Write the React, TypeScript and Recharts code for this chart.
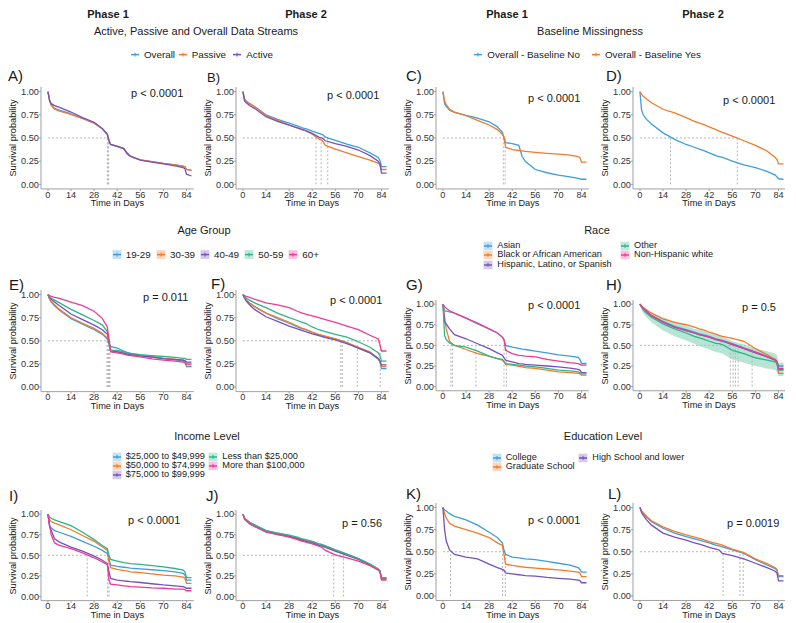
import React from 'react';
import { ComposedChart, Line, Area, XAxis, YAxis, ReferenceLine } from 'recharts';

const FONT = '"Liberation Sans", Arial, Helvetica, sans-serif';
const BLUE = '#3c9fdb';
const ORANGE = '#f47a2b';
const PURPLE = '#7651bd';
const GREEN = '#2fb488';
const PINK = '#ee3b95';
const GUIDE = '#b5b5b5';
const AXIS = '#a0a0a0';

// follow-up days at which the curves are read
const DAYS = [0, 1, 2, 4, 7, 14, 21, 28, 33, 36, 37, 38, 42, 46, 48, 50, 56, 63, 70, 77, 82, 83, 84, 87];
const X_TICKS = [0, 14, 28, 42, 56, 70, 84];
const Y_TICKS = [0, 0.25, 0.5, 0.75, 1];

// A) data streams, phase 1
const A_OVERALL = [1, 0.91, 0.86, 0.82, 0.8, 0.76, 0.71, 0.66, 0.6, 0.54, 0.47, 0.43, 0.41, 0.385, 0.335, 0.305, 0.265, 0.245, 0.225, 0.21, 0.195, 0.19, 0.16, 0.15];
const A_PASSIVE = [1, 0.91, 0.85, 0.81, 0.79, 0.755, 0.71, 0.66, 0.6, 0.54, 0.47, 0.43, 0.41, 0.385, 0.34, 0.305, 0.265, 0.245, 0.225, 0.21, 0.195, 0.19, 0.16, 0.15];
const A_ACTIVE = [1, 0.9, 0.87, 0.85, 0.83, 0.78, 0.72, 0.67, 0.6, 0.54, 0.47, 0.43, 0.41, 0.385, 0.33, 0.3, 0.26, 0.24, 0.22, 0.2, 0.18, 0.17, 0.11, 0.09];
const A_MEDIANS = [36, 36.4, 36.8];

// B) data streams, phase 2
const B_OVERALL = [1, 0.91, 0.89, 0.87, 0.84, 0.75, 0.7, 0.66, 0.63, 0.61, 0.605, 0.6, 0.575, 0.55, 0.54, 0.51, 0.475, 0.435, 0.4, 0.34, 0.29, 0.26, 0.19, 0.19];
const B_PASSIVE = [1, 0.92, 0.9, 0.87, 0.84, 0.745, 0.69, 0.64, 0.61, 0.59, 0.585, 0.58, 0.54, 0.49, 0.475, 0.42, 0.38, 0.34, 0.3, 0.26, 0.23, 0.21, 0.16, 0.16];
const B_ACTIVE = [1, 0.9, 0.88, 0.85, 0.82, 0.73, 0.68, 0.64, 0.61, 0.59, 0.585, 0.58, 0.55, 0.51, 0.5, 0.47, 0.44, 0.41, 0.37, 0.31, 0.25, 0.22, 0.12, 0.12];
const B_MEDIANS = [44.3, 47.4, 51.4];

// C) baseline missingness, phase 1
const C_NO = [1, 0.87, 0.84, 0.8, 0.775, 0.745, 0.715, 0.675, 0.62, 0.56, 0.5, 0.45, 0.44, 0.42, 0.3, 0.245, 0.16, 0.125, 0.1, 0.08, 0.065, 0.06, 0.055, 0.055];
const C_YES = [1, 0.9, 0.86, 0.81, 0.78, 0.74, 0.69, 0.64, 0.59, 0.54, 0.51, 0.4, 0.375, 0.365, 0.36, 0.355, 0.345, 0.335, 0.325, 0.315, 0.3, 0.29, 0.24, 0.24];
const C_MEDIANS = [36.6, 37.7];

// D) baseline missingness, phase 2
const D_NO = [1, 0.8, 0.75, 0.7, 0.65, 0.555, 0.485, 0.43, 0.4, 0.38, 0.375, 0.37, 0.34, 0.31, 0.3, 0.29, 0.25, 0.21, 0.18, 0.14, 0.1, 0.08, 0.06, 0.055];
const D_YES = [1, 0.97, 0.95, 0.92, 0.88, 0.81, 0.77, 0.72, 0.68, 0.66, 0.655, 0.65, 0.62, 0.59, 0.575, 0.56, 0.52, 0.47, 0.42, 0.36, 0.29, 0.27, 0.22, 0.22];
const D_MEDIANS = [18.5, 59];

// E) age group, phase 1
const E_19 = [1, 0.95, 0.92, 0.88, 0.83, 0.74, 0.68, 0.62, 0.57, 0.52, 0.47, 0.44, 0.42, 0.39, 0.375, 0.365, 0.345, 0.33, 0.31, 0.295, 0.28, 0.27, 0.22, 0.22];
const E_30 = [1, 0.95, 0.93, 0.89, 0.84, 0.75, 0.69, 0.635, 0.58, 0.53, 0.47, 0.4, 0.385, 0.37, 0.36, 0.355, 0.34, 0.325, 0.31, 0.3, 0.29, 0.28, 0.24, 0.24];
const E_40 = [1, 0.97, 0.95, 0.92, 0.88, 0.79, 0.73, 0.67, 0.62, 0.57, 0.48, 0.39, 0.38, 0.365, 0.355, 0.35, 0.335, 0.325, 0.305, 0.3, 0.29, 0.285, 0.27, 0.27];
const E_50 = [1, 0.98, 0.96, 0.94, 0.91, 0.84, 0.78, 0.72, 0.67, 0.6, 0.5, 0.4, 0.395, 0.38, 0.37, 0.365, 0.35, 0.34, 0.33, 0.32, 0.31, 0.31, 0.3, 0.3];
const E_60 = [1, 0.99, 0.98, 0.97, 0.96, 0.92, 0.88, 0.82, 0.74, 0.65, 0.52, 0.38, 0.37, 0.355, 0.345, 0.34, 0.325, 0.305, 0.29, 0.28, 0.27, 0.265, 0.25, 0.25];
const E_MEDIANS = [35.8, 36.3, 36.8, 37.2, 37.6];

// F) age group, phase 2
const F_19 = [1, 0.97, 0.94, 0.91, 0.87, 0.8, 0.74, 0.69, 0.65, 0.63, 0.625, 0.62, 0.59, 0.565, 0.555, 0.545, 0.52, 0.48, 0.42, 0.37, 0.3, 0.28, 0.2, 0.2];
const F_30 = [1, 0.97, 0.94, 0.91, 0.87, 0.8, 0.75, 0.7, 0.66, 0.635, 0.63, 0.625, 0.595, 0.57, 0.56, 0.55, 0.52, 0.48, 0.43, 0.38, 0.31, 0.28, 0.22, 0.22];
const F_40 = [1, 0.96, 0.93, 0.89, 0.84, 0.76, 0.71, 0.66, 0.63, 0.61, 0.605, 0.6, 0.575, 0.555, 0.545, 0.535, 0.51, 0.47, 0.42, 0.37, 0.31, 0.28, 0.24, 0.24];
const F_50 = [1, 0.98, 0.96, 0.94, 0.91, 0.86, 0.8, 0.75, 0.72, 0.7, 0.695, 0.69, 0.65, 0.62, 0.61, 0.6, 0.57, 0.54, 0.49, 0.43, 0.37, 0.34, 0.28, 0.28];
const F_60 = [1, 0.99, 0.98, 0.97, 0.95, 0.91, 0.89, 0.86, 0.82, 0.8, 0.795, 0.79, 0.77, 0.75, 0.74, 0.73, 0.7, 0.66, 0.62, 0.56, 0.52, 0.46, 0.39, 0.39];
const F_MEDIANS = [59.3, 60.2, 69.3, 83.2];

// G) race, phase 1
const G_ASIAN = [1, 0.92, 0.915, 0.905, 0.89, 0.83, 0.76, 0.7, 0.65, 0.6, 0.57, 0.5, 0.48, 0.465, 0.455, 0.45, 0.43, 0.41, 0.385, 0.37, 0.355, 0.33, 0.28, 0.28];
const G_BLACK = [1, 0.85, 0.7, 0.55, 0.5, 0.45, 0.4, 0.37, 0.34, 0.32, 0.3, 0.27, 0.26, 0.245, 0.24, 0.23, 0.22, 0.2, 0.18, 0.17, 0.16, 0.155, 0.14, 0.14];
const G_HISP = [1, 0.78, 0.76, 0.7, 0.63, 0.58, 0.52, 0.46, 0.41, 0.38, 0.35, 0.32, 0.3, 0.28, 0.275, 0.27, 0.26, 0.25, 0.24, 0.225, 0.21, 0.2, 0.17, 0.17];
const G_OTHER = [1, 0.62, 0.57, 0.53, 0.5, 0.48, 0.43, 0.37, 0.34, 0.33, 0.31, 0.28, 0.27, 0.26, 0.255, 0.25, 0.24, 0.22, 0.2, 0.19, 0.18, 0.17, 0.155, 0.155];
const G_WHITE = [1, 0.97, 0.95, 0.92, 0.89, 0.83, 0.77, 0.7, 0.65, 0.6, 0.57, 0.44, 0.4, 0.38, 0.375, 0.37, 0.36, 0.33, 0.31, 0.29, 0.28, 0.27, 0.26, 0.26];
const G_MEDIANS = [4.8, 5.8, 20, 37, 38.5];

// H) race, phase 2
const H_ASIAN = [1, 0.97, 0.95, 0.91, 0.86, 0.79, 0.73, 0.69, 0.66, 0.64, 0.635, 0.63, 0.61, 0.58, 0.57, 0.56, 0.52, 0.47, 0.42, 0.37, 0.33, 0.31, 0.25, 0.25];
const H_BLACK = [1, 0.98, 0.96, 0.93, 0.89, 0.82, 0.78, 0.75, 0.72, 0.7, 0.695, 0.69, 0.66, 0.635, 0.62, 0.61, 0.585, 0.55, 0.46, 0.39, 0.33, 0.3, 0.16, 0.16];
const H_HISP = [1, 0.97, 0.95, 0.91, 0.86, 0.78, 0.72, 0.68, 0.65, 0.63, 0.625, 0.62, 0.6, 0.57, 0.56, 0.55, 0.51, 0.46, 0.41, 0.36, 0.32, 0.3, 0.21, 0.21];
const H_OTHER = [1, 0.96, 0.93, 0.89, 0.84, 0.76, 0.7, 0.65, 0.61, 0.59, 0.585, 0.58, 0.55, 0.525, 0.52, 0.51, 0.44, 0.4, 0.35, 0.32, 0.3, 0.28, 0.2, 0.2];
const H_OTHER_LO = [1, 0.93, 0.89, 0.84, 0.78, 0.68, 0.61, 0.56, 0.52, 0.49, 0.485, 0.48, 0.45, 0.42, 0.41, 0.4, 0.33, 0.29, 0.25, 0.22, 0.2, 0.18, 0.13, 0.13];
const H_OTHER_HI = [1, 0.99, 0.97, 0.94, 0.9, 0.84, 0.79, 0.74, 0.7, 0.69, 0.685, 0.68, 0.65, 0.63, 0.62, 0.61, 0.55, 0.51, 0.46, 0.43, 0.4, 0.38, 0.29, 0.29];
const H_WHITE = [1, 0.97, 0.95, 0.91, 0.86, 0.78, 0.72, 0.68, 0.65, 0.63, 0.625, 0.62, 0.6, 0.575, 0.565, 0.555, 0.515, 0.465, 0.415, 0.365, 0.32, 0.3, 0.22, 0.22];
const H_MEDIANS = [54.8, 56.5, 57.9, 59.5, 68];

// I) income, phase 1
const I_25 = [1, 0.86, 0.83, 0.8, 0.78, 0.73, 0.67, 0.61, 0.56, 0.52, 0.46, 0.38, 0.365, 0.355, 0.35, 0.345, 0.335, 0.325, 0.315, 0.3, 0.28, 0.26, 0.2, 0.2];
const I_50 = [1, 0.93, 0.91, 0.89, 0.87, 0.81, 0.74, 0.67, 0.6, 0.56, 0.42, 0.35, 0.33, 0.315, 0.31, 0.3, 0.29, 0.275, 0.26, 0.25, 0.235, 0.22, 0.16, 0.16];
const I_75 = [1, 0.85, 0.8, 0.7, 0.66, 0.6, 0.55, 0.49, 0.44, 0.4, 0.3, 0.22, 0.2, 0.19, 0.185, 0.18, 0.17, 0.155, 0.14, 0.13, 0.12, 0.11, 0.1, 0.1];
const I_LOW = [1, 0.96, 0.95, 0.93, 0.91, 0.86, 0.78, 0.69, 0.62, 0.58, 0.5, 0.45, 0.43, 0.41, 0.405, 0.4, 0.39, 0.375, 0.36, 0.34, 0.32, 0.3, 0.23, 0.23];
const I_HIGH = [1, 0.87, 0.75, 0.65, 0.62, 0.58, 0.53, 0.47, 0.42, 0.385, 0.2, 0.15, 0.14, 0.13, 0.125, 0.12, 0.115, 0.105, 0.1, 0.09, 0.09, 0.085, 0.07, 0.07];
const I_MEDIANS = [23.8, 36.2, 37];

// J) income, phase 2
const J_25 = [1, 0.95, 0.93, 0.9, 0.87, 0.8, 0.77, 0.74, 0.71, 0.69, 0.685, 0.68, 0.66, 0.63, 0.62, 0.605, 0.555, 0.51, 0.455, 0.39, 0.33, 0.31, 0.22, 0.22];
const J_50 = [1, 0.95, 0.93, 0.9, 0.86, 0.79, 0.76, 0.735, 0.71, 0.695, 0.69, 0.685, 0.665, 0.64, 0.63, 0.615, 0.565, 0.515, 0.46, 0.39, 0.33, 0.31, 0.22, 0.22];
const J_75 = [1, 0.94, 0.92, 0.89, 0.85, 0.79, 0.755, 0.73, 0.7, 0.68, 0.675, 0.67, 0.65, 0.62, 0.61, 0.595, 0.55, 0.5, 0.45, 0.385, 0.325, 0.305, 0.21, 0.21];
const J_LOW = [1, 0.95, 0.93, 0.9, 0.87, 0.8, 0.77, 0.745, 0.72, 0.7, 0.695, 0.69, 0.67, 0.64, 0.63, 0.615, 0.565, 0.515, 0.46, 0.395, 0.335, 0.315, 0.23, 0.23];
const J_HIGH = [1, 0.94, 0.92, 0.88, 0.85, 0.78, 0.75, 0.72, 0.69, 0.67, 0.665, 0.66, 0.64, 0.61, 0.595, 0.56, 0.505, 0.47, 0.43, 0.375, 0.32, 0.3, 0.2, 0.2];
const J_MEDIANS = [55, 61];

// K) education, phase 1
const K_COLLEGE = [1, 0.97, 0.96, 0.93, 0.9, 0.86, 0.8, 0.72, 0.66, 0.6, 0.52, 0.47, 0.44, 0.43, 0.425, 0.42, 0.41, 0.39, 0.37, 0.35, 0.32, 0.3, 0.27, 0.27];
const K_GRAD = [1, 0.93, 0.88, 0.82, 0.79, 0.75, 0.71, 0.66, 0.6, 0.57, 0.47, 0.36, 0.345, 0.335, 0.33, 0.325, 0.315, 0.305, 0.295, 0.28, 0.27, 0.26, 0.22, 0.22];
const K_HS = [1, 0.75, 0.62, 0.52, 0.47, 0.44, 0.42, 0.36, 0.32, 0.3, 0.29, 0.26, 0.25, 0.24, 0.235, 0.23, 0.225, 0.21, 0.2, 0.19, 0.18, 0.175, 0.15, 0.15];
const K_MEDIANS = [4.6, 36.2, 37.8];

// L) education, phase 2
const L_COLLEGE = [1, 0.955, 0.93, 0.89, 0.84, 0.765, 0.71, 0.67, 0.645, 0.63, 0.625, 0.62, 0.6, 0.575, 0.565, 0.555, 0.52, 0.48, 0.41, 0.35, 0.31, 0.29, 0.22, 0.22];
const L_GRAD = [1, 0.96, 0.94, 0.9, 0.85, 0.78, 0.73, 0.69, 0.665, 0.65, 0.645, 0.64, 0.615, 0.595, 0.585, 0.575, 0.53, 0.49, 0.42, 0.365, 0.32, 0.3, 0.23, 0.23];
const L_HS = [1, 0.94, 0.91, 0.86, 0.8, 0.71, 0.665, 0.63, 0.6, 0.585, 0.58, 0.575, 0.55, 0.53, 0.52, 0.48, 0.455, 0.42, 0.37, 0.32, 0.28, 0.26, 0.17, 0.17];
const L_MEDIANS = [50.4, 60.6, 62.6];

const STREAM_LABELS = ['Overall', 'Passive', 'Active'];
const BASELINE_LABELS = ['Overall - Baseline No', 'Overall - Baseline Yes'];
const AGE_LABELS = ['19-29', '30-39', '40-49', '50-59', '60+'];
const RACE_LABELS = ['Asian', 'Black or African American', 'Hispanic, Latino, or Spanish', 'Other', 'Non-Hispanic white'];
const INCOME_LABELS = ['$25,000 to $49,999', '$50,000 to $74,999', '$75,000 to $99,999', 'Less than $25,000', 'More than $100,000'];
const EDU_LABELS = ['College', 'Graduate School', 'High School and lower'];

const X_MIN = -4.2;
const X_MAX = 88.4;
const PLOT_W = 152.8;
const PX_PER_DAY = PLOT_W / (X_MAX - X_MIN);
const Y_AXIS_W = 30;
const X_AXIS_H = 14;
const COLS = [48, 243, 443.3, 639.5];

type Series = { values: number[]; color: string };
type PanelSpec = {
  tag: string; tagX: number; tagY: number; tagSize?: number;
  x0: number; y1: number; y0: number;
  series: Series[]; medians: number[];
  p: string; px: number; py: number;
  band?: { lo: number[]; hi: number[]; color: string };
};

const five = (a: number[], b: number[], c: number[], d: number[], e: number[]): Series[] => [
  { values: a, color: BLUE }, { values: b, color: ORANGE }, { values: c, color: PURPLE },
  { values: d, color: GREEN }, { values: e, color: PINK },
];

const PANELS: PanelSpec[] = [
  { tag: 'A)', tagX: 8, tagY: 75, x0: COLS[0], y1: 91.5, y0: 184.2, p: 'p < 0.0001', px: 131, py: 93,
    series: [{ values: A_OVERALL, color: BLUE }, { values: A_PASSIVE, color: ORANGE }, { values: A_ACTIVE, color: PURPLE }], medians: A_MEDIANS },
  { tag: 'B)', tagX: 207, tagY: 77, tagSize: 13, x0: COLS[1], y1: 91.5, y0: 184.2, p: 'p < 0.0001', px: 327, py: 95,
    series: [{ values: B_OVERALL, color: BLUE }, { values: B_PASSIVE, color: ORANGE }, { values: B_ACTIVE, color: PURPLE }], medians: B_MEDIANS },
  { tag: 'C)', tagX: 406, tagY: 75, x0: COLS[2], y1: 91.5, y0: 184.2, p: 'p < 0.0001', px: 528, py: 98,
    series: [{ values: C_NO, color: BLUE }, { values: C_YES, color: ORANGE }], medians: C_MEDIANS },
  { tag: 'D)', tagX: 606, tagY: 75, x0: COLS[3], y1: 91.5, y0: 184.2, p: 'p < 0.0001', px: 723, py: 100,
    series: [{ values: D_NO, color: BLUE }, { values: D_YES, color: ORANGE }], medians: D_MEDIANS },
  { tag: 'E)', tagX: 9, tagY: 284, x0: COLS[0], y1: 294.3, y0: 386.7, p: 'p = 0.011', px: 143, py: 297,
    series: five(E_19, E_30, E_40, E_50, E_60), medians: E_MEDIANS },
  { tag: 'F)', tagX: 211, tagY: 283, x0: COLS[1], y1: 294.3, y0: 386.7, p: 'p < 0.0001', px: 330, py: 300,
    series: five(F_19, F_30, F_40, F_50, F_60), medians: F_MEDIANS },
  { tag: 'G)', tagX: 406, tagY: 284, x0: COLS[2], y1: 304.5, y0: 387, p: 'p < 0.0001', px: 528, py: 305,
    series: five(G_ASIAN, G_BLACK, G_HISP, G_OTHER, G_WHITE), medians: G_MEDIANS },
  { tag: 'H)', tagX: 606, tagY: 284, x0: COLS[3], y1: 304.5, y0: 387, p: 'p = 0.5', px: 742, py: 307,
    series: five(H_ASIAN, H_BLACK, H_HISP, H_OTHER, H_WHITE), medians: H_MEDIANS,
    band: { lo: H_OTHER_LO, hi: H_OTHER_HI, color: GREEN } },
  { tag: 'I)', tagX: 9, tagY: 495, x0: COLS[0], y1: 514.3, y0: 596.7, p: 'p < 0.0001', px: 128, py: 520,
    series: five(I_25, I_50, I_75, I_LOW, I_HIGH), medians: I_MEDIANS },
  { tag: 'J)', tagX: 206, tagY: 495, x0: COLS[1], y1: 514.3, y0: 596.7, p: 'p = 0.56', px: 342, py: 523,
    series: five(J_25, J_50, J_75, J_LOW, J_HIGH), medians: J_MEDIANS },
  { tag: 'K)', tagX: 406, tagY: 493, x0: COLS[2], y1: 507.8, y0: 596.4, p: 'p < 0.0001', px: 528, py: 520,
    series: [{ values: K_COLLEGE, color: BLUE }, { values: K_GRAD, color: ORANGE }, { values: K_HS, color: PURPLE }], medians: K_MEDIANS },
  { tag: 'L)', tagX: 608, tagY: 493, x0: COLS[3], y1: 507.8, y0: 596.4, p: 'p = 0.0019', px: 727, py: 523,
    series: [{ values: L_COLLEGE, color: BLUE }, { values: L_GRAD, color: ORANGE }, { values: L_HS, color: PURPLE }], medians: L_MEDIANS },
];

function Txt({ x, y, size = 11, bold = false, center = true, children }: any) {
  return (
    <div style={{
      position: 'absolute', left: x, top: y, fontSize: size, fontWeight: bold ? 700 : 400,
      transform: center ? 'translate(-50%, -50%)' : 'translateY(-50%)',
      whiteSpace: 'nowrap', lineHeight: 1, color: '#1a1a1a',
    }}>{children}</div>
  );
}

function Key({ color, box }: { color: string; box: boolean }) {
  return (
    <svg width={10} height={9} style={{ display: 'block' }}>
      {box && <rect x={0.5} y={0} width={9} height={9} fill={color} fillOpacity={0.3} />}
      <line x1={1} x2={9} y1={4.5} y2={4.5} stroke={color} strokeWidth={1.5} />
      <line x1={5} x2={5} y1={2.5} y2={6.5} stroke={color} strokeWidth={1} />
    </svg>
  );
}

function LegendItem({ x, y, color, label, box = true, size = 9.2 }: any) {
  return (
    <div style={{
      position: 'absolute', left: x - 5, top: y, transform: 'translateY(-50%)', display: 'flex',
      alignItems: 'center', fontSize: size, whiteSpace: 'nowrap', lineHeight: 1, color: '#1a1a1a',
    }}>
      <Key color={color} box={box} />
      <span style={{ marginLeft: 4 }}>{label}</span>
    </div>
  );
}

function KMPanel({ spec }: { spec: PanelSpec }) {
  const unit = spec.y0 - spec.y1;
  const top = spec.y1 - 0.05 * unit;
  const plotH = 1.1 * unit;
  const plotLeft = spec.x0 + X_MIN * PX_PER_DAY;
  const data = DAYS.map((d, i) => {
    const row: any = { day: d };
    spec.series.forEach((s, j) => { row['s' + j] = s.values[i]; });
    if (spec.band) row.band = [spec.band.lo[i], spec.band.hi[i]];
    return row;
  });
  const lastMedian = Math.max(...spec.medians);
  const tickStyle = { fontSize: 9.2, fill: '#333' };
  return (
    <>
      <Txt x={spec.tagX} y={spec.tagY} size={spec.tagSize || 15} center={false}>{spec.tag}</Txt>
      <div style={{ position: 'absolute', left: plotLeft - Y_AXIS_W, top }}>
        <ComposedChart width={PLOT_W + Y_AXIS_W} height={plotH + X_AXIS_H} data={data}
          margin={{ top: 0, right: 0, bottom: 0, left: 0 }}>
          <XAxis type="number" dataKey="day" domain={[X_MIN, X_MAX]} ticks={X_TICKS} interval={0}
            allowDataOverflow height={X_AXIS_H} stroke={AXIS} tick={tickStyle} tickSize={2} tickMargin={0} />
          <YAxis type="number" domain={[-0.05, 1.05]} ticks={Y_TICKS} interval={0} allowDataOverflow
            width={Y_AXIS_W} stroke={AXIS} tick={tickStyle} tickSize={2} tickMargin={0}
            tickFormatter={(v: number) => v.toFixed(2)} />
          <ReferenceLine segment={[{ x: 0, y: 0.5 }, { x: lastMedian, y: 0.5 }]} stroke={GUIDE} strokeDasharray="2 2" />
          {spec.medians.map((m, k) => (
            <ReferenceLine key={k} segment={[{ x: m, y: 0 }, { x: m, y: 0.5 }]} stroke={GUIDE} strokeDasharray="2 2" />
          ))}
          {spec.band && (
            <Area dataKey="band" type="linear" stroke="none" fill={spec.band.color} fillOpacity={0.35}
              isAnimationActive={false} />
          )}
          {spec.series.map((s, j) => (
            <Line key={j} dataKey={'s' + j} type="linear" stroke={s.color} strokeWidth={1.3} dot={false}
              isAnimationActive={false} />
          ))}
        </ComposedChart>
      </div>
      <Txt x={spec.px} y={spec.py} size={11} center={false}>{spec.p}</Txt>
      <div style={{
        position: 'absolute', left: plotLeft - 27, top: top + plotH / 2, fontSize: 9.2, color: '#1a1a1a',
        transform: 'translate(-50%, -50%) rotate(-90deg)', whiteSpace: 'nowrap', lineHeight: 1,
      }}>Survival probability</div>
      <Txt x={plotLeft + PLOT_W / 2} y={top + plotH + 15.2} size={9.2}>Time in Days</Txt>
    </>
  );
}

export default function App() {
  const fiveColors = [BLUE, ORANGE, PURPLE, GREEN, PINK];
  return (
    <div style={{
      position: 'absolute', left: 0, top: 0, width: 796, height: 623, background: '#fff',
      fontFamily: FONT, overflow: 'hidden',
    }}>
      <Txt x={108} y={14} bold>Phase 1</Txt>
      <Txt x={306} y={14} bold>Phase 2</Txt>
      <Txt x={507} y={14} bold>Phase 1</Txt>
      <Txt x={703} y={14} bold>Phase 2</Txt>

      <Txt x={196} y={31}>Active, Passive and Overall Data Streams</Txt>
      <Txt x={590} y={31}>Baseline Missingness</Txt>
      {[135, 182.7, 237.3].map((kx, i) => (
        <LegendItem key={i} x={kx} y={55} color={[BLUE, ORANGE, PURPLE][i]} label={STREAM_LABELS[i]} box={false} size={9.8} />
      ))}
      {[478.3, 596].map((kx, i) => (
        <LegendItem key={i} x={kx} y={55} color={[BLUE, ORANGE][i]} label={BASELINE_LABELS[i]} box={false} size={9.8} />
      ))}

      <Txt x={204} y={230}>Age Group</Txt>
      {[116.7, 161, 205, 249.3, 293.3].map((kx, i) => (
        <LegendItem key={i} x={kx} y={255} color={fiveColors[i]} label={AGE_LABELS[i]} size={9.8} />
      ))}
      <Txt x={597} y={230}>Race</Txt>
      {[[488.3, 246], [488.3, 255.3], [488.3, 264.5], [625, 246], [625, 255.3]].map(([kx, ky], i) => (
        <LegendItem key={i} x={kx} y={ky} color={fiveColors[i]} label={RACE_LABELS[i]} />
      ))}

      <Txt x={207} y={436}>Income Level</Txt>
      {[[116.7, 456.7], [116.7, 465.7], [116.7, 474.5], [213.3, 456.7], [213.3, 465.7]].map(([kx, ky], i) => (
        <LegendItem key={i} x={kx} y={ky} color={fiveColors[i]} label={INCOME_LABELS[i]} />
      ))}
      <Txt x={603} y={436}>Education Level</Txt>
      {[[496.7, 458.3], [496.7, 467], [583.3, 458.3]].map(([kx, ky], i) => (
        <LegendItem key={i} x={kx} y={ky} color={[BLUE, ORANGE, PURPLE][i]} label={EDU_LABELS[i]} />
      ))}

      {PANELS.map((p) => <KMPanel key={p.tag} spec={p} />)}
    </div>
  );
}
